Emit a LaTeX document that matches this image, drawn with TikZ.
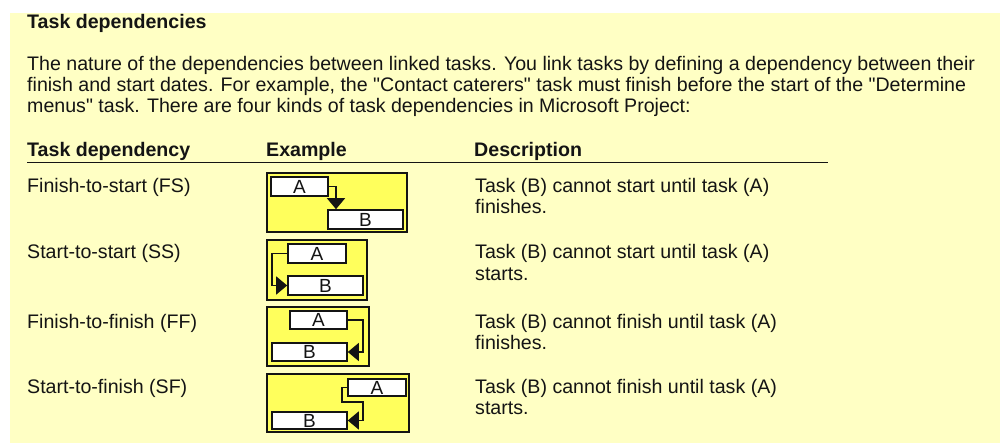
\documentclass[tikz,border=0pt]{standalone}
\usepackage{fontspec}
\setmainfont{Liberation Sans}
\usetikzlibrary{arrows.meta}
\definecolor{pagebg}{RGB}{255,255,196}
\definecolor{boxfill}{RGB}{255,255,92}
\definecolor{ink}{RGB}{20,20,20}
\tikzset{
  txt/.style={anchor=base west, inner sep=0pt, text=ink, font=\fontsize{19.6}{21}\selectfont},
  hdr/.style={txt, font=\fontsize{19.6}{21}\selectfont\bfseries},
  frame/.style={draw=ink, line width=2pt, fill=boxfill, inner sep=0pt},
  bar/.style={draw=ink, line width=1.6pt, fill=white, inner sep=0pt, text=ink,
              font=\fontsize{19}{19}\selectfont},
  tip/.tip={Triangle[width=18pt,length=11pt]},
  conn/.style={draw=ink, line width=1.4pt, -tip}
}
\begin{document}
\begin{tikzpicture}[x=1pt,y=-1pt]
\useasboundingbox (0,0) rectangle (1000,443);
\fill[pagebg] (10,13) rectangle (1000,443);

% heading and introduction
\node[hdr] (title) at (27,29) {Task dependencies};
\node[txt] (p1) at (27,71) {The nature of the dependencies between linked tasks. You link tasks by defining a dependency between their};
\node[txt] (p2) at (27,92) {finish and start dates. For example, the \textquotedbl Contact caterers\textquotedbl{} task must finish before the start of the \textquotedbl Determine};
\node[txt] (p3) at (27,113) {menus\textquotedbl{} task. There are four kinds of task dependencies in Microsoft Project:};

% table header
\node[hdr] (h1) at (27,157) {Task dependency};
\node[hdr] (h2) at (266,157) {Example};
\node[hdr] (h3) at (474,157) {Description};
\coordinate (ruleL) at (27,162.5);
\coordinate (ruleR) at (828,162.5);
\draw[ink, line width=1.6pt] (ruleL) -- (ruleR);

% row labels and descriptions
\node[txt] (l1) at (27,193) {Finish-to-start (FS)};
\node[txt] (d1a) at (475,193) {Task (B) cannot start until task (A)};
\node[txt] (d1b) at (475,214) {finishes.};

\node[txt] (l2) at (27,259) {Start-to-start (SS)};
\node[txt] (d2a) at (475,259) {Task (B) cannot start until task (A)};
\node[txt] (d2b) at (475,280) {starts.};

\node[txt] (l3) at (27,328) {Finish-to-finish (FF)};
\node[txt] (d3a) at (475,328) {Task (B) cannot finish until task (A)};
\node[txt] (d3b) at (475,349) {finishes.};

\node[txt] (l4) at (27,393) {Start-to-finish (SF)};
\node[txt] (d4a) at (475,393) {Task (B) cannot finish until task (A)};
\node[txt] (d4b) at (475,414) {starts.};

% example: finish-to-start
\node[frame, minimum width=140pt, minimum height=59pt] (fsBox) at (337,202.5) {};
\node[bar, minimum width=57pt, minimum height=19pt] (fsA) at (299.5,186.5) {A};
\node[bar, minimum width=75pt, minimum height=19pt] (fsB) at (365.5,219.5) {B};
\coordinate (fsT) at (336,186.5);
\draw[conn] (fsA.east) -- (fsT) -- (fsT |- fsB.north);

% example: start-to-start
\node[frame, minimum width=100pt, minimum height=60pt] (ssBox) at (317,270) {};
\node[bar, minimum width=58pt, minimum height=19pt] (ssA) at (317,253.5) {A};
\node[bar, minimum width=75pt, minimum height=19pt] (ssB) at (325.5,285.5) {B};
\coordinate (ssT) at (272,253.5);
\draw[conn] (ssA.west) -- (ssT) -- (ssT |- ssB.west) -- (ssB.west);

% example: finish-to-finish
\node[frame, minimum width=102pt, minimum height=59pt] (ffBox) at (318,336.5) {};
\node[bar, minimum width=57pt, minimum height=18pt] (ffA) at (318.5,320) {A};
\node[bar, minimum width=75pt, minimum height=18pt] (ffB) at (309.5,352) {B};
\coordinate (ffT) at (363,320);
\draw[conn] (ffA.east) -- (ffT) -- (ffT |- ffB.east) -- (ffB.east);

% example: start-to-finish
\node[frame, minimum width=142pt, minimum height=58pt] (sfBox) at (338,403) {};
\node[bar, minimum width=58pt, minimum height=17pt] (sfA) at (377,387.5) {A};
\node[bar, minimum width=75pt, minimum height=17pt] (sfB) at (309.5,420.5) {B};
\coordinate (sfT1) at (342,387.5);
\coordinate (sfT2) at (342,402);
\coordinate (sfT3) at (363,402);
\draw[conn] (sfA.west) -- (sfT1) -- (sfT2) -- (sfT3) -- (sfT3 |- sfB.east) -- (sfB.east);
\end{tikzpicture}
\end{document}
